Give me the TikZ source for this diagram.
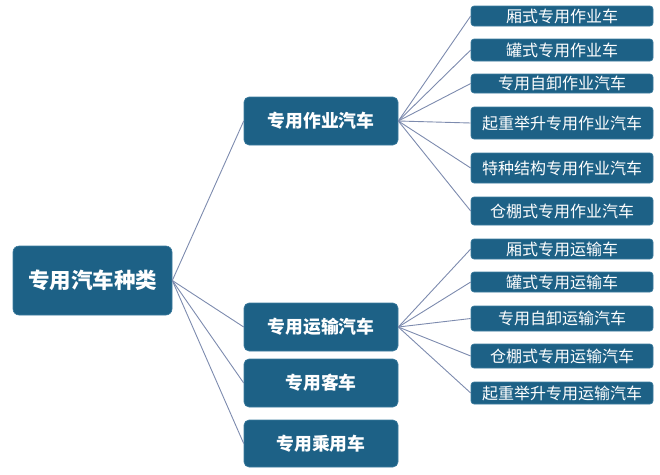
\documentclass[tikz,border=0pt]{standalone}
\usepackage{fontspec}
\setmainfont{Noto Sans CJK SC}
\definecolor{boxfill}{HTML}{1D6186}
\definecolor{boxedge}{HTML}{3C7C9E}
\definecolor{linkc}{HTML}{7D8BAE}
\tikzset{
  basebox/.style={draw=boxedge, line width=0.6pt, fill=boxfill, text=white, inner sep=0pt, anchor=center},
  rootbox/.style={basebox, rounded corners=6pt, font=\fontsize{21.5}{23}\selectfont\bfseries},
  midbox/.style={basebox, rounded corners=5pt, font=\fontsize{17.8}{19}\selectfont\bfseries},
  leafbox/.style={basebox, rounded corners=3pt, font=\fontsize{16}{18}\selectfont},
  link/.style={draw=linkc, line width=0.9pt}
}
\begin{document}
\begin{tikzpicture}[x=1pt,y=-1pt]
\useasboundingbox (0,0) rectangle (660,474);
% root
\node[rootbox, minimum width=159pt, minimum height=69pt] (root) at (92.5,280.5) {专用汽车种类};
% middle
\node[midbox, minimum width=154pt, minimum height=48pt] (m1) at (321,121) {专用作业汽车};
\node[midbox, minimum width=154pt, minimum height=48pt] (m2) at (321,327) {专用运输汽车};
\node[midbox, minimum width=154pt, minimum height=48pt] (m3) at (321,383) {专用客车};
\node[midbox, minimum width=154pt, minimum height=47pt] (m4) at (321,443.5) {专用乘用车};
% leaves of m1
\node[leafbox, minimum width=182pt, minimum height=20pt] (a1) at (562,16) {厢式专用作业车};
\node[leafbox, minimum width=182pt, minimum height=22pt] (a2) at (562,50) {罐式专用作业车};
\node[leafbox, minimum width=182pt, minimum height=19pt] (a3) at (562,83.5) {专用自卸作业汽车};
\node[leafbox, minimum width=182pt, minimum height=32pt] (a4) at (562,123) {起重举升专用作业汽车};
\node[leafbox, minimum width=182pt, minimum height=30pt] (a5) at (562,168) {特种结构专用作业汽车};
\node[leafbox, minimum width=182pt, minimum height=28pt] (a6) at (562,211) {仓棚式专用作业汽车};
% leaves of m2
\node[leafbox, minimum width=182pt, minimum height=20pt] (b1) at (562,249) {厢式专用运输车};
\node[leafbox, minimum width=182pt, minimum height=20pt] (b2) at (562,282) {罐式专用运输车};
\node[leafbox, minimum width=182pt, minimum height=25pt] (b3) at (562,318.5) {专用自卸运输汽车};
\node[leafbox, minimum width=182pt, minimum height=24pt] (b4) at (562,356) {仓棚式专用运输汽车};
\node[leafbox, minimum width=182pt, minimum height=22pt] (b5) at (562,393) {起重举升专用运输汽车};
% connectors
\foreach \m in {m1,m2,m3,m4} \draw[link] (root.east) -- (\m.west);
\foreach \l in {a1,a2,a3,a4,a5,a6} \draw[link] (m1.east) -- (\l.west);
\foreach \l in {b1,b2,b3,b4,b5} \draw[link] (m2.east) -- (\l.west);
\end{tikzpicture}
\end{document}
